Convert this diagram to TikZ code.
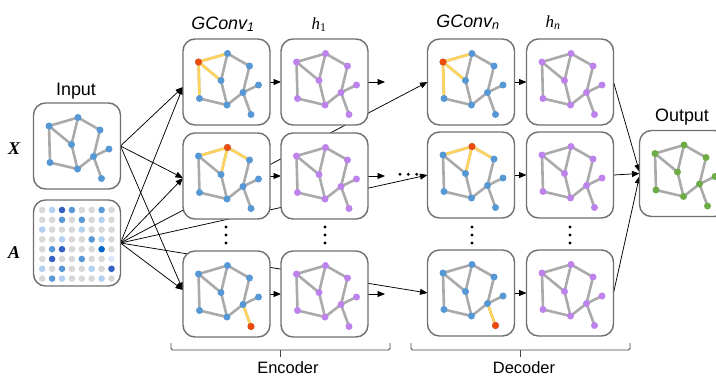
\documentclass[tikz,border=0pt]{standalone}
\usepackage{fontspec}
\setmainfont{Liberation Sans}
\newfontfamily\serifface{Liberation Serif}
\usetikzlibrary{arrows.meta}

% colours
\definecolor{boxline}{RGB}{112,112,112}
\definecolor{edgegrey}{RGB}{170,170,170}
\definecolor{hiedge}{RGB}{255,212,92}
\definecolor{hinode}{RGB}{238,74,12}
\definecolor{bluenode}{RGB}{86,152,214}
\definecolor{purplenode}{RGB}{190,130,236}
\definecolor{greennode}{RGB}{110,172,70}
\definecolor{matg}{RGB}{216,216,216}
\definecolor{matl}{RGB}{178,208,240}
\definecolor{matp}{RGB}{218,232,250}
\definecolor{matm}{RGB}{90,152,214}
\definecolor{matd}{RGB}{52,98,196}
\definecolor{mats}{RGB}{4,102,200}
\definecolor{bracecol}{RGB}{70,70,70}

\pgfdeclarelayer{background}
\pgfsetlayers{background,main}

\tikzset{
  panel/.style={draw=boxline, line width=1.4bp, rounded corners=12bp, fill=white,
    minimum width=87bp, minimum height=86bp, inner sep=0pt, outer sep=0pt},
  link/.style={draw=black, line width=0.75bp, -{Triangle[length=7.5bp,width=6bp]}},
  gedge/.style={draw=edgegrey, line width=2.6bp},
  hedge/.style={draw=hiedge, line width=2.6bp},
  headtext/.style={font=\fontsize{18}{18}\selectfont, inner sep=0pt},
  parttext/.style={font=\fontsize{16.5}{16.5}\selectfont, inner sep=0pt},
  symtext/.style={font=\fontsize{17}{17}\selectfont\serifface, inner sep=0pt},
  mattext/.style={font=\fontsize{18}{18}\selectfont\serifface\bfseries\itshape, inner sep=0pt},
  partbracket/.style={draw=bracecol, line width=0.8bp, rounded corners=1.5bp},
  ellipsisdot/.style={fill=black},
}

% small graph drawn inside a panel: #1 panel, #2 vertex colour,
% #3 highlighted neighbourhood (0 none, 1 left vertex, 2 top vertex, 3 leaf)
\newcommand\graphglyph[3]{%
  \begin{scope}[shift={(#1.north west)}]
    \coordinate (v1) at (15.5,23);
    \coordinate (v2) at (44.5,14.5);
    \coordinate (v3) at (66.5,27);
    \coordinate (v4) at (38,41.5);
    \coordinate (v5) at (75.5,46);
    \coordinate (v6) at (60,53.5);
    \coordinate (v7) at (16.5,59.5);
    \coordinate (v8) at (44,66);
    \coordinate (v9) at (68,75.5);
    \draw[gedge] (v1)--(v2) (v1)--(v4) (v1)--(v7) (v2)--(v4) (v2)--(v3)
      (v3)--(v6) (v4)--(v8) (v7)--(v8) (v8)--(v6) (v6)--(v5) (v6)--(v9);
    \ifcase#3\or
      \draw[hedge] (v2)--(v1)--(v4) (v1)--(v7);
    \or
      \draw[hedge] (v1)--(v2)--(v3) (v2)--(v4);
    \or
      \draw[hedge] (v6)--(v9);
    \fi
    \foreach \k in {1,...,9} \fill[#2] (v\k) circle (3.5bp);
    \ifcase#3\or
      \fill[hinode] (v1) circle (3.5bp);
    \or
      \fill[hinode] (v2) circle (3.5bp);
    \or
      \fill[hinode] (v9) circle (3.5bp);
    \fi
  \end{scope}}

\begin{document}
\begin{tikzpicture}[x=1bp, y=-1bp]
\useasboundingbox (0,0) rectangle (716,378);

% panels
\node[panel] (inX) at (77,146) {};
\node[panel] (inA) at (77,243) {};
\node[panel] (g1a) at (226.5,82) {};
\node[panel] (g1b) at (226.5,176) {};
\node[panel] (g1c) at (226.5,294) {};
\node[panel] (h1a) at (324.5,82) {};
\node[panel] (h1b) at (324.5,176) {};
\node[panel] (h1c) at (324.5,294) {};
\node[panel] (gna) at (471,82) {};
\node[panel] (gnb) at (471,175) {};
\node[panel] (gnc) at (471,293) {};
\node[panel] (hna) at (570,82) {};
\node[panel] (hnb) at (570,175) {};
\node[panel] (hnc) at (570,293) {};
\node[panel] (out) at (683,173.5) {};

% graphs
\graphglyph{inX}{bluenode}{0}
\graphglyph{g1a}{bluenode}{1}
\graphglyph{g1b}{bluenode}{2}
\graphglyph{g1c}{bluenode}{3}
\graphglyph{h1a}{purplenode}{0}
\graphglyph{h1b}{purplenode}{0}
\graphglyph{h1c}{purplenode}{0}
\graphglyph{gna}{bluenode}{1}
\graphglyph{gnb}{bluenode}{2}
\graphglyph{gnc}{bluenode}{3}
\graphglyph{hna}{purplenode}{0}
\graphglyph{hnb}{purplenode}{0}
\graphglyph{hnc}{purplenode}{0}
\graphglyph{out}{greennode}{0}

% adjacency matrix
\begin{scope}[shift={(inA.north west)}]
  \foreach \row [count=\i from 0] in {{g,l,d,m,g,g,m,g},{g,g,m,g,m,g,l,g},{l,g,g,g,l,g,g,g},{g,g,l,g,g,m,l,g},{g,m,d,g,g,g,s,g},{g,d,g,g,m,g,g,p},{l,g,m,g,g,l,g,d},{g,m,l,g,g,g,l,g}}
    \foreach \c [count=\j from 0] in \row
      \fill[mat\c] (8.7+9.9*\j, 10+9.8*\i) circle (3.3bp);
\end{scope}

% labels
\node[headtext, anchor=base] (tIn) at (76,95) {Input};
\node[headtext, anchor=base] (tOut) at (682,121) {Output};
\node[headtext, anchor=base] (tG1) at (223,29) {\itshape GConv\textsubscript{1}};
\node[symtext, anchor=base] (tH1) at (319,29) {\itshape h\textsubscript{\upshape 1}};
\node[headtext, anchor=base] (tGn) at (468,27) {\itshape GConv\textsubscript{n}};
\node[symtext, anchor=base] (tHn) at (553,27) {\itshape h\textsubscript{n}};
\node[mattext] (tX) at (14,149) {X};
\node[mattext] (tA) at (14,253) {A};
\node[parttext, anchor=base] (tEnc) at (288,373) {Encoder};
\node[parttext, anchor=base] (tDec) at (524,373) {Decoder};

% ellipses
\foreach \x in {226,325,472,570}
  \foreach \y in {227,235,243}
    \fill[ellipsisdot] (\x,\y) circle (1.6bp);
\foreach \x in {400,408.3,416.7}
  \fill[ellipsisdot] (\x,174.3) circle (1.6bp);

% brackets under encoder and decoder
\coordinate (encL) at (171,343);
\coordinate (encR) at (390,343);
\coordinate (encM) at (280.5,350);
\coordinate (decL) at (411,343);
\coordinate (decR) at (630,343);
\coordinate (decM) at (520.5,350);
\draw[partbracket] (encL) -- ([yshift=-7bp]encL) -- ([yshift=-7bp]encR) -- (encR);
\draw[partbracket] (encM) -- ([yshift=-7bp]encM);
\draw[partbracket] (decL) -- ([yshift=-7bp]decL) -- ([yshift=-7bp]decR) -- (decR);
\draw[partbracket] (decM) -- ([yshift=-7bp]decM);

% free ends of the encoder outputs
\coordinate (h1a-o) at ([xshift=17bp]h1a.east);
\coordinate (h1b-o) at ([xshift=17bp]h1b.east);
\coordinate (h1c-o) at ([xshift=17bp]h1c.east);

\begin{pgfonlayer}{background}
  % inputs to the first layer
  \foreach \s in {inX,inA} {
    \draw[link] (\s.east) -- ([yshift=-5bp]g1a.west);
    \draw[link] (\s.east) -- ([yshift=-2bp]g1b.west);
    \draw[link] (\s.east) -- ([yshift=4bp]g1c.west);
  }
  % adjacency into the last layer
  \draw[link] (inA.east) -- (gna.west);
  \draw[link] (inA.east) -- (gnb.west);
  \draw[link] (inA.east) -- (gnc.west);
  % encoder
  \foreach \r in {a,b,c} {
    \draw[link] (g1\r.east) -- (h1\r.west);
    \draw[link] (h1\r.east) -- (h1\r-o);
    \draw[link] (gn\r.east) -- (hn\r.west);
  }
  % decoder to output
  \draw[link] (hna.east) -- ([yshift=1.5bp]out.west);
  \draw[link] (hnb.east) -- (out.west);
  \draw[link] (hnc.east) -- ([yshift=-2.5bp]out.west);
\end{pgfonlayer}
\end{tikzpicture}
\end{document}
